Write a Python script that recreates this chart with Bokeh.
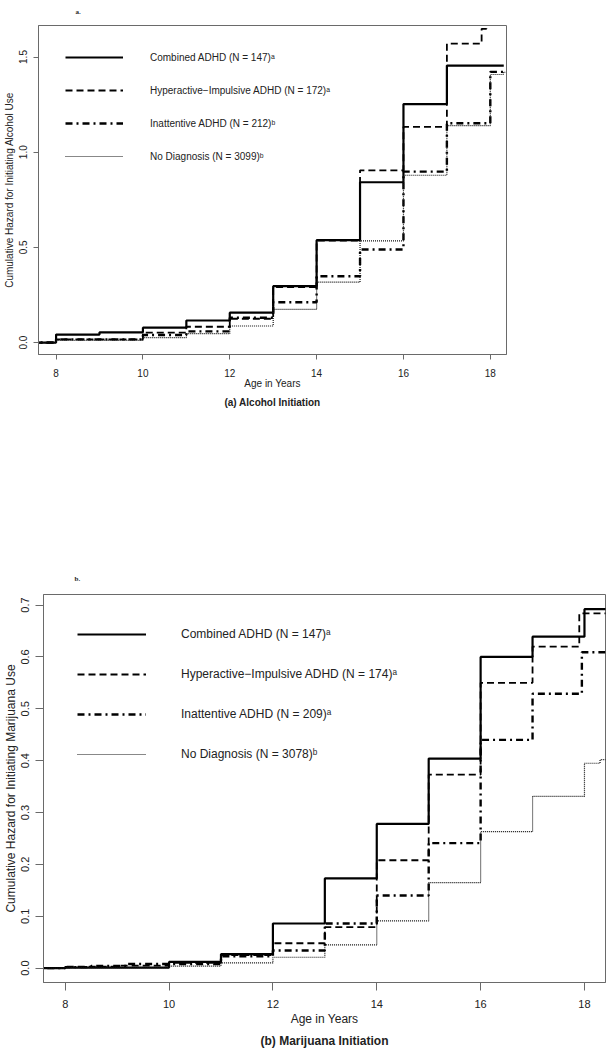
from bokeh.plotting import figure
from bokeh.models import Range1d, FixedTicker, Legend, LegendItem, Title
from bokeh.embed import file_html
from bokeh.resources import INLINE

# ---------------- data: (a) alcohol ----------------
alc_comb_age = [7.0, 8, 9, 10, 11, 12, 13, 14, 15, 16, 17, 18.31]
alc_comb_haz = [0.0, 0.042, 0.054, 0.078, 0.116, 0.157, 0.296, 0.538, 0.842, 1.253, 1.455, 1.455]

alc_hyp_age = [7.0, 8, 10, 11, 12, 13, 14, 15, 16, 17, 17.8, 17.91, 18.31]
alc_hyp_haz = [0.0, 0.017, 0.052, 0.083, 0.125, 0.292, 0.535, 0.905, 1.133, 1.57, 1.648, 1.72, 1.72]

alc_ina_age = [7.0, 8, 10, 11, 12, 13, 14, 15, 16, 17, 18, 18.35]
alc_ina_haz = [0.0, 0.017, 0.04, 0.059, 0.13, 0.212, 0.348, 0.489, 0.898, 1.152, 1.422, 1.422]

alc_none_age = [7.0, 8, 10, 11, 12, 13, 14, 15, 16, 17, 18, 18.3, 18.35]
alc_none_haz = [0.0, 0.012, 0.026, 0.047, 0.087, 0.174, 0.317, 0.534, 0.879, 1.14, 1.408, 1.42, 1.42]

alc_labels = ["Combined ADHD (N = 147)\u1d43",
              "Hyperactive\u2212Impulsive ADHD (N = 172)\u1d43",
              "Inattentive ADHD (N = 212)\u1d47",
              "No Diagnosis (N = 3099)\u1d47"]

# ---------------- data: (b) marijuana ----------------
mj_comb_age = [7.0, 8, 10, 11, 12, 13, 14, 15, 16, 17, 18, 18.5]
mj_comb_haz = [0.0, 0.001, 0.012, 0.027, 0.086, 0.173, 0.278, 0.404, 0.600, 0.639, 0.692, 0.692]

mj_hyp_age = [7.0, 8, 9, 10, 11, 12, 13, 14, 15, 16, 17, 17.9, 18.5]
mj_hyp_haz = [0.0, 0.003, 0.005, 0.010, 0.025, 0.048, 0.079, 0.208, 0.373, 0.550, 0.620, 0.684, 0.684]

mj_ina_age = [7.0, 8, 8.5, 9.2, 10, 11, 12, 13, 14, 15, 16, 17, 17.95, 18.5]
mj_ina_haz = [0.0, 0.002, 0.004, 0.008, 0.008, 0.023, 0.034, 0.086, 0.140, 0.241, 0.440, 0.529, 0.609, 0.609]

mj_none_age = [7.0, 8, 10, 11, 12, 13, 14, 15, 16, 17, 18, 18.3, 18.5]
mj_none_haz = [0.0, 0.001, 0.004, 0.010, 0.021, 0.045, 0.091, 0.165, 0.263, 0.331, 0.395, 0.402, 0.402]

mj_labels = ["Combined ADHD (N = 147)\u1d43",
             "Hyperactive\u2212Impulsive ADHD (N = 174)\u1d43",
             "Inattentive ADHD (N = 209)\u1d43",
             "No Diagnosis (N = 3078)\u1d47"]

x_ticks = [8, 10, 12, 14, 16, 18]
alc_y_ticks = [0.0, 0.5, 1.0, 1.5]
mj_y_ticks = [0.0, 0.1, 0.2, 0.3, 0.4, 0.5, 0.6, 0.7]

FONT = "Liberation Sans"
FRAME = "#6a6a6a"
TXT = "#222222"

STYLES = [
    dict(line_color="black", line_width=2.2, line_dash="solid"),
    dict(line_color="black", line_width=1.8, line_dash="7 4"),
    dict(line_color="black", line_width=2.4, line_dash="7 4 2 4"),
    dict(line_color="#111111", line_width=1.2, line_dash="1 1"),
]


def make_chart(series, labels, yticks, xr, yr, height, borders, fs, tick_out,
               xstand, ystand, title, ylabel, legend_loc, leg_geom, tag, tag_pos):
    p = figure(width=607, height=height, x_range=Range1d(*xr), y_range=Range1d(*yr),
               output_backend="svg", toolbar_location=None,
               min_border_left=borders[0], min_border_right=borders[1],
               min_border_top=borders[2], min_border_bottom=borders[3])
    p.outline_line_color = FRAME
    p.outline_line_width = 1
    p.xgrid.visible = False
    p.ygrid.visible = False
    p.background_fill_color = "white"
    p.border_fill_color = "white"

    # small panel tag ("a." / "b.") above the frame
    p.title.text = tag
    p.title.align = "left"
    p.title.vertical_align = "top"
    p.title.offset = tag_pos[0]
    p.title.standoff = tag_pos[1]
    p.title.text_font = "Liberation Serif"
    p.title.text_font_size = "7px"
    p.title.text_font_style = "bold"
    p.title.text_color = TXT

    renderers = []
    for (xs, ys), st in zip(series, STYLES):
        r = p.step(xs, ys, mode="after", **st)
        renderers.append(r)

    for ax in (p.xaxis[0], p.yaxis[0]):
        ax.axis_line_color = FRAME
        ax.major_tick_line_color = FRAME
        ax.minor_tick_line_color = None
        ax.major_tick_out = tick_out
        ax.major_tick_in = 0
        ax.major_label_text_font = FONT
        ax.major_label_text_font_size = f"{fs[0]}px"
        ax.major_label_text_color = TXT
        ax.axis_label_text_font = FONT
        ax.axis_label_text_font_size = f"{fs[1]}px"
        ax.axis_label_text_font_style = "normal"
        ax.axis_label_text_color = TXT

    p.xaxis.ticker = FixedTicker(ticks=x_ticks)
    p.yaxis.ticker = FixedTicker(ticks=yticks)
    p.yaxis.major_label_overrides = {t: f"{t:.1f}" for t in yticks}
    p.yaxis.major_label_orientation = "vertical"
    p.xaxis.axis_label = "Age in Years"
    p.yaxis.axis_label = ylabel
    p.xaxis.major_label_standoff = xstand[0]
    p.xaxis.axis_label_standoff = xstand[1]
    p.yaxis.major_label_standoff = ystand[0]
    p.yaxis.axis_label_standoff = ystand[1]

    t = Title(text=title, align="center", text_font=FONT, text_font_size=f"{fs[2]}px",
              text_font_style="bold", text_color=TXT, standoff=xstand[2])
    p.add_layout(t, "below")

    items = [LegendItem(label=lab, renderers=[r]) for lab, r in zip(labels, renderers)]
    gw, gh, sp, stand, lfs = leg_geom
    leg = Legend(items=items, location=legend_loc, glyph_width=gw, glyph_height=gh,
                 label_height=gh, spacing=sp, label_standoff=stand, padding=0, margin=0,
                 border_line_alpha=0, background_fill_alpha=0,
                 label_text_font=FONT, label_text_font_size=f"{lfs}px",
                 label_text_color=TXT)
    p.add_layout(leg)
    return p


p1 = make_chart(
    series=[(alc_comb_age, alc_comb_haz), (alc_hyp_age, alc_hyp_haz),
            (alc_ina_age, alc_ina_haz), (alc_none_age, alc_none_haz)],
    labels=alc_labels, yticks=alc_y_ticks,
    xr=(7.595, 18.373), yr=(-0.0627, 1.6655), height=560,
    borders=(35, 101, 23, 206), fs=(10, 10, 10), tick_out=5,
    xstand=(9, -2, 7), ystand=(6, 2),
    title="(a) Alcohol Initiation",
    ylabel="Cumulative Hazard for Initiating Alcohol Use",
    legend_loc=(27, 188), leg_geom=(58, 20, 13, 27, 10),
    tag="a.", tag_pos=(37, 15))

p2 = make_chart(
    series=[(mj_comb_age, mj_comb_haz), (mj_hyp_age, mj_hyp_haz),
            (mj_ina_age, mj_ina_haz), (mj_none_age, mj_none_haz)],
    labels=mj_labels, yticks=mj_y_ticks,
    xr=(7.582, 18.405), yr=(-0.0277, 0.7203), height=490,
    borders=(43, 2, 34, 62), fs=(11, 12, 12), tick_out=8,
    xstand=(9, 1, 6), ystand=(6, 1),
    title="(b) Marijuana Initiation",
    ylabel="Cumulative Hazard for Initiating Marijuana Use",
    legend_loc=(34, 218), leg_geom=(69, 20, 20, 35, 12),
    tag="b.", tag_pos=(31, 20))

open("out.html", "w").write(file_html([p1, p2], INLINE))
